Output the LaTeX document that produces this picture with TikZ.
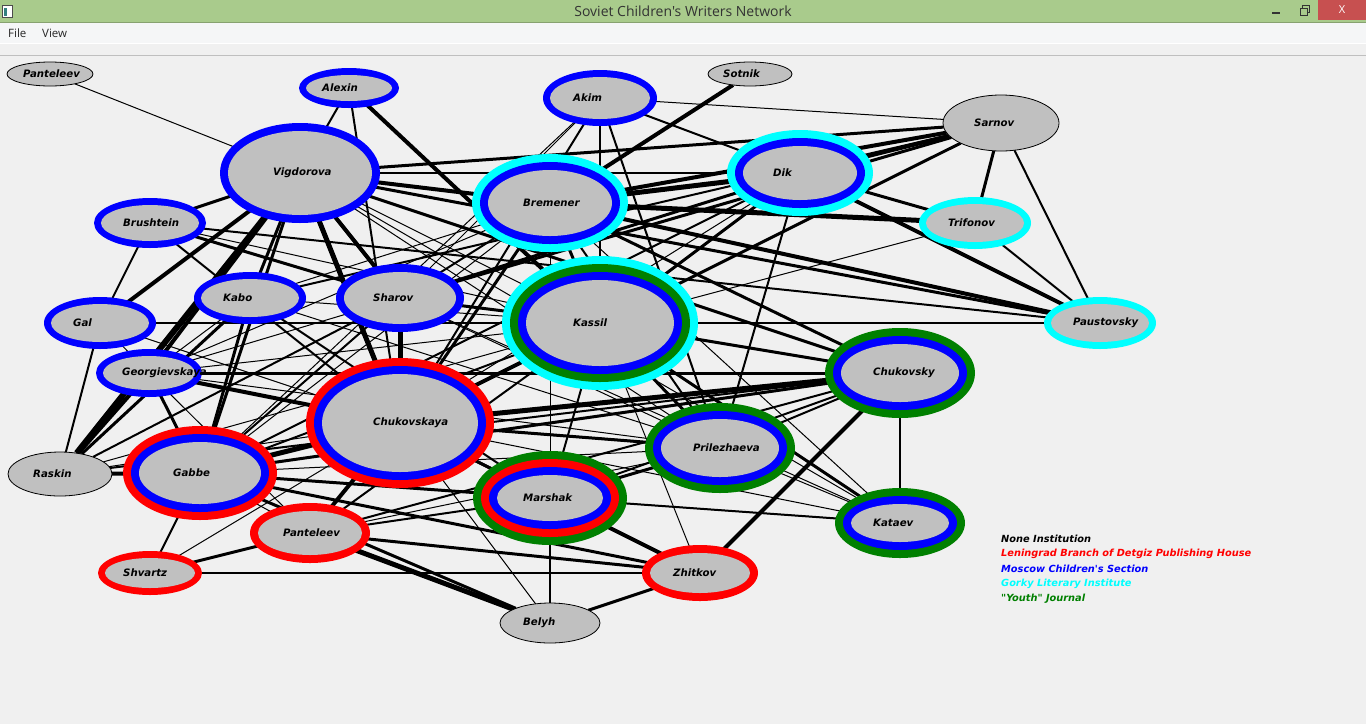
\documentclass[tikz,border=0pt]{standalone}
\usepackage{fontspec}
\defaultfontfeatures{}
\newfontfamily\netfont{DejaVu Sans}
\newfontfamily\uifont{Open Sans}
\usepackage{xcolor}
\usetikzlibrary{shapes.geometric,backgrounds}

\definecolor{canvas}{HTML}{F0F0F0}
\definecolor{titlebar}{HTML}{A9CB8C}
\definecolor{menubar}{HTML}{F5F6F7}
\definecolor{closebtn}{HTML}{C75050}
\definecolor{nodegrey}{HTML}{C0C0C0}
\definecolor{youth}{HTML}{008000}
\definecolor{leningrad}{HTML}{FF0000}
\definecolor{moscow}{HTML}{0000FF}
\definecolor{gorky}{HTML}{00FFFF}

% writer: [ring width] name, position, rx, ry, number of rings, ring colours (outer first), label
\newcommand{\writer}[8][8]{%
  \ifnum#6>0
    \foreach \c [count=\i from 0] in {#7}{%
      \node[disc, fill=\c, minimum width={2*(#4-#1*\i)}, minimum height={2*(#5-#1*\i)}]
        (#2-ring\i) at (#3) {};
    }%
    \node[disc, fill=nodegrey, minimum width={2*(#4-#1*#6)}, minimum height={2*(#5-#1*#6)}]
      (#2) at (#3) {};
  \else
    \node[disc, plain, minimum width=2*#4, minimum height=2*#5] (#2) at (#3) {};
  \fi
  \node[writer, xshift=-27pt] (#2-label) at (#3) {#8};
}

\begin{document}
\begin{tikzpicture}[x=1pt, y=-1pt,
  disc/.style={ellipse, inner sep=0pt, outer sep=0pt},
  plain/.style={fill=nodegrey, draw=black, line width=0.8pt},
  writer/.style={anchor=west, inner sep=0pt, text=black,
                 font=\netfont\bfseries\itshape\fontsize{10.2}{12}\selectfont},
  key/.style={anchor=west, inner sep=0pt,
              font=\netfont\bfseries\itshape\fontsize{9.8}{12}\selectfont},
  ui/.style={inner sep=0pt, text=black!85, font=\uifont\fontsize{11.5}{13}\selectfont},
  tie1/.style={line width=1pt},
  tie2/.style={line width=2pt},
  tie3/.style={line width=3pt},
  tie4/.style={line width=4pt},
  tie5/.style={line width=5pt},
  tie6/.style={line width=6pt}
]
\useasboundingbox (0,0) rectangle (1366,724);

% Writers
\writer{pantop}{50,74}{43}{12}{0}{}{Panteleev}
\writer[7]{alexin}{349,88}{50}{20}{1}{moscow}{Alexin}
\writer{vigdorova}{300,173}{80}{50}{1}{moscow}{Vigdorova}
\writer[7]{brushtein}{150,223}{56}{25}{1}{moscow}{Brushtein}
\writer[7]{akim}{600,98}{57}{28}{1}{moscow}{Akim}
\writer{sotnik}{750,74}{42}{12}{0}{}{Sotnik}
\writer{sarnov}{1001,123}{58}{28}{0}{}{Sarnov}
\writer{bremener}{550,203}{78}{49}{2}{gorky,moscow}{Bremener}
\writer{dik}{800,173}{73}{43}{2}{gorky,moscow}{Dik}
\writer[7]{trifonov}{975,223}{56}{26}{1}{gorky}{Trifonov}
\writer[7]{paustovsky}{1100,323}{56}{26}{1}{gorky}{Paustovsky}
\writer[7]{gal}{100,323}{56}{26}{1}{moscow}{Gal}
\writer[7]{kabo}{250,298}{56}{26}{1}{moscow}{Kabo}
\writer{sharov}{400,298}{64}{34}{1}{moscow}{Sharov}
\writer{kassil}{600,323}{98}{67}{3}{gorky,youth,moscow}{Kassil}
\writer[7]{georgievskaya}{149,373}{53}{24}{1}{moscow}{Georgievskaya}
\writer{chukovskaya}{400,423}{94}{65}{2}{leningrad,moscow}{Chukovskaya}
\writer{chukovsky}{900,373}{75}{45}{2}{youth,moscow}{Chukovsky}
\writer{raskin}{60,474}{52}{22}{0}{}{Raskin}
\writer{gabbe}{200,473}{77}{47}{2}{leningrad,moscow}{Gabbe}
\writer{prilezhaeva}{720,448}{75}{45}{2}{youth,moscow}{Prilezhaeva}
\writer{marshak}{550,498}{77}{47}{3}{youth,leningrad,moscow}{Marshak}
\writer{kataev}{900,523}{65}{35}{2}{youth,moscow}{Kataev}
\writer{panteleev}{310,533}{60}{30}{1}{leningrad}{Panteleev}
\writer[7]{shvartz}{150,573}{52}{22}{1}{leningrad}{Shvartz}
\writer{zhitkov}{700,573}{58}{28}{1}{leningrad}{Zhitkov}
\writer{belyh}{550,623}{50}{20}{0}{}{Belyh}

% Ties, drawn under the writers
\begin{scope}[on background layer]
\fill[canvas] (0,56) rectangle (1366,724);
\foreach \a/\b in {pantop/vigdorova, akim/sarnov, akim/gabbe, akim/sharov, trifonov/kassil,
    gal/chukovskaya, shvartz/chukovskaya, belyh/chukovskaya, vigdorova/kassil,
    vigdorova/prilezhaeva, vigdorova/kataev, kabo/kassil, kabo/bremener, kabo/georgievskaya,
    kabo/prilezhaeva, georgievskaya/prilezhaeva, georgievskaya/kassil, georgievskaya/panteleev,
    georgievskaya/sharov, sharov/prilezhaeva, sharov/kataev, bremener/gabbe,
    bremener/georgievskaya, bremener/kataev, bremener/marshak, prilezhaeva/kataev,
    chukovskaya/kataev, gabbe/prilezhaeva, raskin/kassil, raskin/chukovskaya, brushtein/kassil,
    gal/georgievskaya, dik/chukovskaya, panteleev/prilezhaeva, panteleev/gabbe, kassil/zhitkov,
    gabbe/kataev}
  \draw[tie1] (\a) -- (\b);
\foreach \a/\b in {alexin/vigdorova, alexin/chukovskaya, akim/dik, akim/prilezhaeva, akim/kassil,
    akim/chukovskaya, gal/raskin, brushtein/gal, brushtein/paustovsky, brushtein/chukovskaya,
    kassil/paustovsky, gal/kassil, sarnov/paustovsky, trifonov/paustovsky, dik/prilezhaeva,
    dik/gabbe, sharov/bremener, raskin/sharov, marshak/belyh, marshak/kataev, marshak/panteleev,
    shvartz/gabbe, shvartz/zhitkov, gabbe/kassil, gabbe/sharov, chukovsky/kataev,
    prilezhaeva/chukovsky, prilezhaeva/chukovskaya, kassil/marshak, panteleev/chukovsky,
    panteleev/kassil, vigdorova/dik, kabo/marshak, sarnov/kabo, bremener/prilezhaeva,
    chukovsky/marshak, chukovsky/raskin}
  \draw[tie2] (\a) -- (\b);
\foreach \a/\b in {vigdorova/kabo, vigdorova/gabbe, vigdorova/brushtein, vigdorova/sarnov,
    vigdorova/paustovsky, vigdorova/chukovsky, sharov/kassil, sharov/dik, bremener/chukovskaya,
    bremener/kassil, dik/trifonov, dik/kassil, sarnov/trifonov, sarnov/kassil, sarnov/sharov,
    kassil/chukovsky, kassil/prilezhaeva, kassil/kataev, georgievskaya/gabbe, kabo/gabbe,
    kabo/raskin, gabbe/marshak, gabbe/zhitkov, gabbe/chukovsky, prilezhaeva/marshak,
    marshak/chukovskaya, zhitkov/panteleev, zhitkov/belyh, panteleev/shvartz, belyh/gabbe,
    brushtein/sharov, chukovskaya/zhitkov, chukovskaya/prilezhaeva, bremener/chukovsky,
    georgievskaya/chukovsky}
  \draw[tie3] (\a) -- (\b);
\foreach \a/\b in {alexin/kassil, sotnik/bremener, vigdorova/gal, vigdorova/georgievskaya,
    vigdorova/sharov, vigdorova/bremener, bremener/sarnov, bremener/paustovsky, dik/paustovsky,
    dik/sarnov, georgievskaya/chukovskaya, georgievskaya/raskin, gabbe/raskin, marshak/zhitkov,
    chukovsky/zhitkov, panteleev/chukovskaya, kassil/chukovskaya}
  \draw[tie4] (\a) -- (\b);
\foreach \a/\b in {vigdorova/chukovskaya, sharov/chukovskaya, bremener/dik, bremener/trifonov,
    belyh/panteleev, gabbe/chukovskaya, chukovskaya/chukovsky}
  \draw[tie5] (\a) -- (\b);
\draw[tie6] (vigdorova) -- (raskin);
\end{scope}

% Legend
\node[key, text=black] (none-key) at (1001,539) {None Institution};
\node[key, text=leningrad] (leningrad-key) at (1001,554) {Leningrad Branch of Detgiz Publishing House};
\node[key, text=moscow] (moscow-key) at (1001,569) {Moscow Children's Section};
\node[key, text=gorky] (gorky-key) at (1001,584) {Gorky Literary Institute};
\node[key, text=youth] (youth-key) at (1001,599) {"Youth" Journal};

% Window frame
\fill[titlebar] (0,0) rectangle (1366,22);
\draw[titlebar!80!black] (0,22) -- (1366,22);
\node[ui, font=\uifont\fontsize{14}{16}\selectfont, text=black!80] (title) at (683,11) {Soviet Children's Writers Network};
\draw[black!70, fill=white] (2,5) rectangle (12,17);
\fill[teal!60!gray] (3.5,8) rectangle (7,16);
\draw[black!80, line width=1.5pt] (1272,13) -- (1280,13);
\draw[black!80, line width=1pt] (1300,8) rectangle (1307,15);
\draw[black!80, line width=1pt] (1302,8) -- (1302,5) -- (1309,5) -- (1309,12) -- (1307,12);
\fill[closebtn] (1318,0) rectangle (1366,20);
\node[ui, text=white, font=\uifont\fontsize{11}{12}\selectfont] (close) at (1342,10) {X};
\fill[menubar] (0,22.5) rectangle (1366,43);
\node[ui, anchor=west] (file) at (8,33) {File};
\node[ui, anchor=west] (view) at (42,33) {View};
\draw[white] (0,43.5) -- (1366,43.5);
\fill[canvas] (0,44) rectangle (1366,55);
\draw[black!25] (0,55.5) -- (1366,55.5);
\end{tikzpicture}
\end{document}
